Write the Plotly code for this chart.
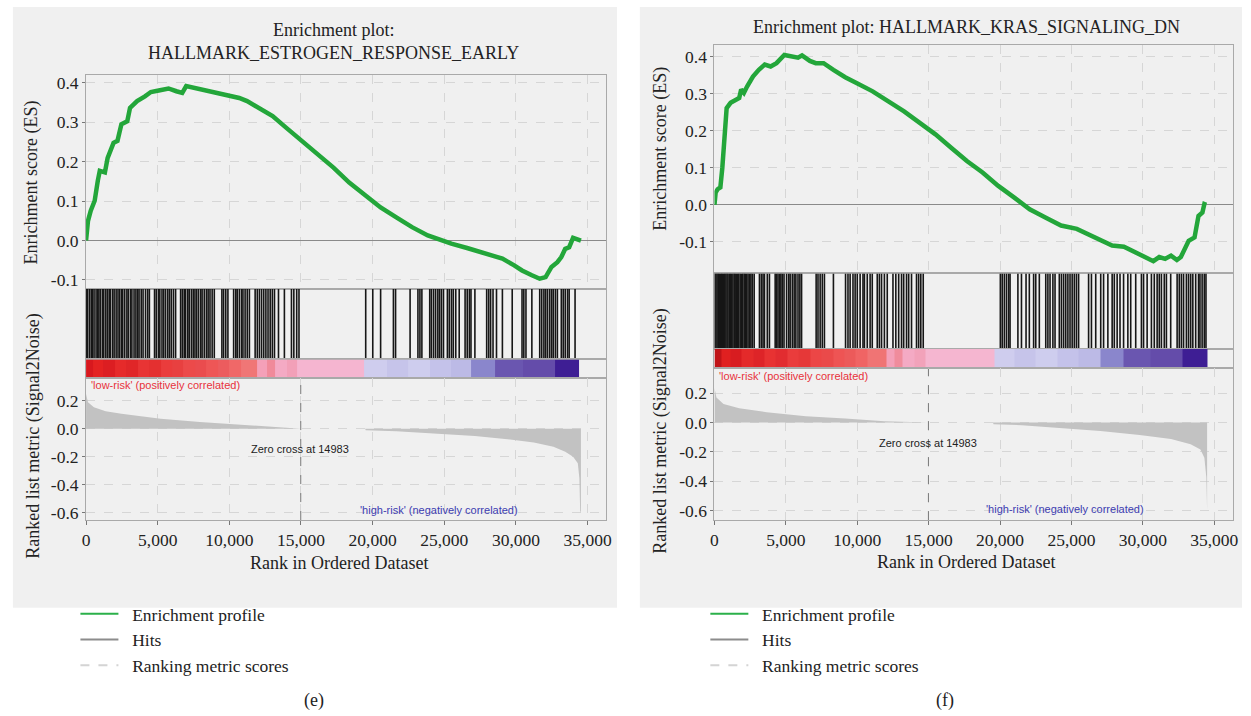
import plotly.graph_objects as go

W, H = 1251, 716
SERIF = "Liberation Serif, Times New Roman, serif"
SANS = "Liberation Sans, Arial, sans-serif"

# ---------------- shared ticks ----------------
x_tick_vals = [0, 5000, 10000, 15000, 20000, 25000, 30000, 35000]
x_tick_text = ["0", "5,000", "10,000", "15,000", "20,000", "25,000", "30,000", "35,000"]
es_tick_vals = [-0.1, 0.0, 0.1, 0.2, 0.3, 0.4]
es_tick_text = ["-0.1", "0.0", "0.1", "0.2", "0.3", "0.4"]
metric_tick_vals = [-0.6, -0.4, -0.2, 0.0, 0.2]
metric_tick_text = ["-0.6", "-0.4", "-0.2", "0.0", "0.2"]
zero_cross = 14983

# ---------------- panel (e) ----------------
e_title = ["Enrichment plot:", "HALLMARK_ESTROGEN_RESPONSE_EARLY"]
e_es_rank = [0, 137, 329, 603, 822, 959, 1316, 1508, 1919, 2193, 2467, 2878, 3070, 3563,
             4111, 4523, 5071, 5756, 6304, 6715, 6989, 7675, 8497, 9593, 10690, 11238,
             12060, 13020, 13979, 15075, 16172, 17268, 18365, 19461, 20557, 21654, 22750,
             23847, 24669, 25491, 26588, 27410, 28232, 29055, 29877, 30425, 31111, 31659,
             32070, 32481, 32892, 33166, 33440, 33714, 33988, 34262, 34536]
e_es_val = [0.0, 0.05, 0.076, 0.101, 0.152, 0.177, 0.173, 0.21, 0.248, 0.253, 0.295, 0.303,
            0.337, 0.354, 0.366, 0.377, 0.381, 0.386, 0.379, 0.375, 0.392, 0.386, 0.381,
            0.372, 0.362, 0.354, 0.337, 0.316, 0.286, 0.253, 0.219, 0.185, 0.147, 0.114,
            0.084, 0.059, 0.034, 0.013, 0.002, -0.008, -0.019, -0.029, -0.038, -0.046,
            -0.063, -0.076, -0.088, -0.097, -0.093, -0.067, -0.055, -0.042, -0.021, -0.017,
            0.007, 0.002, 0.0]
e_hits = [30, 120, 260, 380, 450, 560, 700, 820, 900, 1010, 1150, 1240, 1380, 1500, 1620,
          1700, 1850, 1960, 2100, 2230, 2350, 2480, 2560, 2700, 2850, 2950, 3100, 3200, 3350,
          3480, 3600, 3700, 3850, 3980, 4150, 4300, 4420, 4780, 4900, 5050, 5150,
          5300, 5420, 5550, 5700, 5820, 5950, 6100, 6250,
          6600, 6720, 6850, 6950, 7100, 7200, 7350, 7480, 7600, 7720, 7850, 8000, 8100, 8250,
          8400, 8520, 8650, 8800, 8950,
          9480, 9600, 9750, 9900,
          10300, 10450, 10550, 10700, 10850, 10950, 11100, 11250, 11400,
          11800, 11950, 12100, 12250, 12400, 12550, 12700, 12850, 13000, 13150,
          13430, 13842, 14335, 14500, 14700, 14860,
          19516, 20009, 20557, 21450, 21600, 22613, 23161, 23300, 23436, 23984, 24100, 24250,
          24395, 24550, 24669, 24800, 24943, 25217, 25350, 25500, 25628, 25800, 26040, 26451,
          26600, 26750, 26862, 27136, 27958, 28100, 28232, 28400, 28643, 29055, 29740, 30425,
          30550, 30699, 31111, 31659, 31800, 31950, 32070, 32200, 32350, 32481, 32600, 32750,
          32892, 33166, 33300, 33440, 33600, 33714, 34125]
e_metric_rank = [0, 137, 548, 1370, 2467, 5208, 7949, 10690, 13430, 14940, 14983, 19480,
                 19516, 21654, 24395, 27136, 29877, 31248, 32618, 33440, 33988, 34317, 34427,
                 34481, 34536]
e_metric_val = [0.247, 0.188, 0.153, 0.125, 0.106, 0.071, 0.047, 0.028, 0.012, 0.003, 0.0, 0.0,
                -0.012, -0.019, -0.035, -0.052, -0.08, -0.099, -0.129, -0.165, -0.2, -0.247,
                -0.353, -0.588, -0.6]
e_bar_edges = [0, 500, 1200, 2000, 2800, 3600, 4400, 5200, 6000, 6800, 7600, 8400, 9200,
               10000, 10800, 11965, 12600, 13200, 14000, 14725, 19414, 21000, 22500, 24000,
               25500, 26862, 28517, 30500, 32724, 34379]
e_bar_colors = ["#d8181e", "#e42222", "#dc1e22", "#e62a2a", "#e02628", "#e83434", "#e43030",
                "#ea3c3c", "#e84040", "#ec4a4a", "#ea4c4e", "#ee5656", "#ec5c5e", "#f06868",
                "#f07676", "#f4a0b8", "#f08a9a", "#f4aac4", "#f2a0b8", "#f5b5d0", "#cfcdee",
                "#c6c4ea", "#cecdee", "#c4c2ea", "#bcbae6", "#8a86cc", "#6a56b0", "#644caa",
                "#3e1e94"]

# ---------------- panel (f) ----------------
f_title = ["Enrichment plot: HALLMARK_KRAS_SIGNALING_DN"]
f_es_rank = [0, 82, 220, 412, 550, 687, 770, 852, 1127, 1457, 1732, 1869, 2062, 2282, 2694,
             3106, 3519, 3931, 4343, 4893, 5306, 5855, 6130, 6680, 7092, 7642, 8329, 9154,
             9979, 11078, 12178, 13278, 14377, 15477, 16576, 17676, 18776, 19875, 20975,
             22075, 23174, 24274, 25374, 26198, 27023, 27848, 28673, 29498, 30322, 30735,
             31147, 31560, 31972, 32384, 32659, 32934, 33209, 33621, 33896, 34171, 34308,
             34445]
f_es_val = [0.0, 0.033, 0.042, 0.047, 0.1, 0.19, 0.199, 0.261, 0.275, 0.284, 0.288, 0.311,
            0.302, 0.319, 0.346, 0.364, 0.378, 0.373, 0.382, 0.404, 0.402, 0.397, 0.403,
            0.388, 0.382, 0.382, 0.364, 0.344, 0.328, 0.306, 0.279, 0.252, 0.221, 0.19, 0.154,
            0.118, 0.087, 0.051, 0.02, -0.012, -0.034, -0.056, -0.065, -0.079, -0.095, -0.11,
            -0.113, -0.128, -0.146, -0.152, -0.141, -0.146, -0.137, -0.149, -0.141, -0.119,
            -0.097, -0.088, -0.03, -0.021, 0.002, 0.0]
f_hits = [20, 100, 180, 260, 330, 420, 500, 560, 650, 720, 800, 880, 950, 1050, 1120, 1200,
          1290, 1380, 1450, 1540, 1620, 1700, 1800, 1900, 1980, 2080, 2160, 2250,
          2350, 2450, 2550, 2650, 2780, 3150, 3280, 3400, 3500, 3700, 3850,
          4250, 4350, 4450, 4560, 4650, 4750, 4870, 5050, 5200, 5300,
          5450, 5580, 5700, 5850, 5980, 6100, 7120, 7250, 7400, 7550, 7700, 8330,
          9180, 9350, 9500, 9700, 9850, 10000, 10200, 10400, 10500, 10700, 10900, 11050,
          11400, 11550, 11700, 11900, 12100, 12500, 12700, 12900, 13100, 13250,
          13450, 13600, 13800, 14150, 14300, 14450, 14620,
          20020, 20150, 20300, 20450, 20600, 20700, 21250, 21500, 21820, 22050,
          22350, 22500, 22750, 23200, 23350, 23500, 23700, 23850,
          24150, 24300, 24450, 24600, 24750, 24900, 25050, 25200, 25350, 25500,
          26200, 26400, 26700, 27050, 27250, 27550, 27850, 28000, 28200, 28400, 28650,
          28950, 29150, 29500, 29900, 30050, 30300, 30600, 30800, 31000,
          31150, 31300, 31500, 31650, 31950, 32400, 32550, 32700, 32850, 33050,
          33200, 33350, 33500, 33700, 33900, 34000, 34150, 34300, 34420]
f_metric_rank = [0, 137, 632, 1732, 3656, 6405, 9154, 11903, 14927, 14983, 19500, 19545,
                 21524, 24274, 27023, 29773, 31972, 33346, 34033, 34308, 34445, 34500]
f_metric_val = [0.238, 0.171, 0.127, 0.098, 0.071, 0.044, 0.027, 0.009, 0.001, 0.0, 0.0,
                -0.011, -0.018, -0.036, -0.058, -0.084, -0.111, -0.147, -0.184, -0.24,
                -0.373, -0.596]
f_bar_edges = [0, 500, 1100, 1900, 2700, 3500, 4300, 5100, 5900, 6700, 7500, 8300, 9100,
               9900, 10700, 12040, 12600, 13200, 14000, 14800, 19600, 21000, 22500, 24000,
               25500, 27020, 28620, 30500, 32800, 34500]
f_bar_colors = ["#c01418", "#e02020", "#d81c20", "#e42a2a", "#de2428", "#e83232", "#e22c30",
                "#ea3c3c", "#e63838", "#ec4646", "#ea4a4a", "#ee5454", "#ec5a5a", "#f06464",
                "#f07474", "#f4a0b8", "#f08c9c", "#f4aac4", "#f2a2ba", "#f5b6d0", "#cfcdee",
                "#c6c4ea", "#cecdee", "#c4c2ea", "#bcbae6", "#8a86cc", "#6a56b0", "#644caa",
                "#3e1e94"]

legend_names = ["\u00a0\u00a0Enrichment profile", "\u00a0\u00a0Hits",
                "\u00a0\u00a0Ranking metric scores"]
panel_labels = ["(e)", "(f)"]


def px(x):
    return x / W


def py(y):
    return 1 - y / H


fig = go.Figure()
annotations = []
layout_axes = {}


def add_text(x, y, text, size, color="#222222", family=SERIF, angle=0, xanchor="center"):
    annotations.append(dict(x=px(x), y=py(y), xref="paper", yref="paper", text=text,
                            showarrow=False, font=dict(size=size, color=color, family=family),
                            textangle=angle, xanchor=xanchor, yanchor="middle"))


def build_panel(k, left, right, es_dom, hit_dom, bar_dom, met_dom, xmax, es_rng, met_rng,
                es_rank, es_val, hits, m_rank, m_val, edges, colors, legend_id):
    ids = [4 * k + i for i in range(1, 5)]
    names = ["" if i == 1 else str(i) for i in ids]
    xd = [px(left), px(right)]
    border = "#a9a9a9"
    grid = "#d6d6d6"
    for n, dom in zip(names, [es_dom, hit_dom, bar_dom, met_dom]):
        layout_axes["xaxis" + n] = dict(domain=xd, range=[0, xmax], anchor="y" + n,
                                        showline=True, mirror=True, linecolor=border,
                                        showgrid=False, zeroline=False, showticklabels=False,
                                        ticks="", fixedrange=True)
        layout_axes["yaxis" + n] = dict(domain=[py(dom[1]), py(dom[0])], anchor="x" + n,
                                        showline=True, mirror=True, linecolor=border,
                                        showgrid=False, zeroline=False, showticklabels=False,
                                        ticks="", range=[0, 1], fixedrange=True)
    n_es, n_hit, n_bar, n_met = names
    tickfont = dict(family=SERIF, size=17.5, color="#222222")
    layout_axes["xaxis" + n_es].update(showgrid=True, gridcolor=grid, griddash="dash",
                                       tickvals=x_tick_vals)
    layout_axes["yaxis" + n_es].update(range=es_rng, showgrid=True, gridcolor=grid,
                                       griddash="dash", tickvals=es_tick_vals,
                                       ticktext=es_tick_text, showticklabels=True,
                                       ticks="outside", ticklen=3, tickcolor="#777",
                                       tickfont=tickfont, zeroline=True,
                                       zerolinecolor="#8a8a8a", zerolinewidth=1)
    layout_axes["xaxis" + n_met].update(showgrid=True, gridcolor=grid, griddash="dash",
                                        tickvals=x_tick_vals, ticktext=x_tick_text,
                                        showticklabels=True, ticks="outside", ticklen=4,
                                        tickcolor="#777", tickfont=tickfont)
    layout_axes["yaxis" + n_met].update(range=met_rng, showgrid=True, gridcolor=grid,
                                        griddash="dash", tickvals=metric_tick_vals,
                                        ticktext=metric_tick_text, showticklabels=True,
                                        ticks="outside", ticklen=3, tickcolor="#777",
                                        tickfont=tickfont)

    def ax(n):
        return dict(xaxis="x" + n, yaxis="y" + n)

    # ranked metric area
    fig.add_trace(go.Scatter(x=m_rank, y=m_val, mode="lines", fill="tozeroy",
                             fillcolor="#c2c2c2", line=dict(width=0, color="#c2c2c2"),
                             showlegend=False, hoverinfo="skip", **ax(n_met)))
    # zero cross line
    fig.add_trace(go.Scatter(x=[zero_cross, zero_cross], y=met_rng, mode="lines",
                             line=dict(color="#7a7a7a", width=1, dash="dash"),
                             showlegend=False, hoverinfo="skip", **ax(n_met)))
    # hits
    hx, hy = [], []
    for h in hits:
        hx += [h, h, None]
        hy += [0, 1, None]
    fig.add_trace(go.Scatter(x=hx, y=hy, mode="lines", line=dict(color="#161616", width=1.6),
                             showlegend=False, hoverinfo="skip", **ax(n_hit)))
    # colour bar
    nc = len(colors)
    cs = [[i / (nc - 1), c] for i, c in enumerate(colors)]
    fig.add_trace(go.Heatmap(x=edges, y=[0, 1], z=[list(range(nc))], colorscale=cs,
                             zmin=0, zmax=nc - 1, showscale=False, hoverinfo="skip",
                             **ax(n_bar)))
    # enrichment profile
    fig.add_trace(go.Scatter(x=es_rank, y=es_val, mode="lines",
                             line=dict(color="#23a63a", width=4.5),
                             showlegend=False, hoverinfo="skip", **ax(n_es)))
    # legend entries
    styles = [dict(color="#2bb04a", width=2), dict(color="#8c8c8c", width=2),
              dict(color="#d4d4d4", width=2, dash="dash")]
    for name, st in zip(legend_names, styles):
        fig.add_trace(go.Scatter(x=[None], y=[None], mode="lines", line=st, name=name,
                                 legend=legend_id, **ax(n_es)))


# gray panel backgrounds
shapes = [
    dict(type="rect", xref="paper", yref="paper", x0=px(9), x1=px(618), y0=py(610), y1=py(5),
         fillcolor="#f0f0f0", line=dict(width=0), layer="below"),
    dict(type="rect", xref="paper", yref="paper", x0=px(641), x1=px(1248), y0=py(610), y1=py(5),
         fillcolor="#f0f0f0", line=dict(width=0), layer="below"),
]

build_panel(0, 82.7, 606.7, (74, 289), (289, 360), (360, 378.7), (378.7, 521.7), 36274,
            [-0.123, 0.419], [-0.652, 0.361], e_es_rank, e_es_val, e_hits,
            e_metric_rank, e_metric_val, e_bar_edges, e_bar_colors, "legend")
build_panel(1, 716.2, 1239, (43.3, 273.3), (273.3, 349), (349, 369), (369, 521.7), 36320,
            [-0.185, 0.431], [-0.664, 0.369], f_es_rank, f_es_val, f_hits,
            f_metric_rank, f_metric_val, f_bar_edges, f_bar_colors, "legend2")

# titles
add_text(332, 28, e_title[0], 18)
add_text(332, 51, e_title[1], 18)
add_text(970, 25, f_title[0], 18)
# axis titles
add_text(28, 182, "Enrichment score (ES)", 18, angle=-90)
add_text(30, 437, "Ranked list metric (Signal2Noise)", 18, angle=-90)
add_text(662, 148, "Enrichment score (ES)", 18, angle=-90)
add_text(662, 432, "Ranked list metric (Signal2Noise)", 18, angle=-90)
add_text(338, 565, "Rank in Ordered Dataset", 18)
add_text(970, 564, "Rank in Ordered Dataset", 18)
# in-plot labels
add_text(86, 386, "'low-risk' (positively correlated)", 11, color="#e8323c", family=SANS,
         xanchor="left")
add_text(719, 377, "'low-risk' (positively correlated)", 11, color="#e8323c", family=SANS,
         xanchor="left")
add_text(439, 512, "'high-risk' (negatively correlated)", 11, color="#3c3cb0", family=SANS)
add_text(1070, 511, "'high-risk' (negatively correlated)", 11, color="#3c3cb0", family=SANS)
add_text(298, 450, "Zero cross at 14983", 11, color="#222222", family=SANS)
add_text(931, 444, "Zero cross at 14983", 11, color="#222222", family=SANS)
# panel letters
add_text(313, 703, panel_labels[0], 18)
add_text(949, 703, panel_labels[1], 18)

legend_common = dict(xanchor="left", yanchor="top", bgcolor="rgba(0,0,0,0)",
                     font=dict(family=SERIF, size=17.5, color="#222222"), itemwidth=38,
                     tracegroupgap=0, traceorder="normal")
fig.update_layout(
    width=W, height=H, margin=dict(l=0, r=0, t=0, b=0),
    paper_bgcolor="white", plot_bgcolor="white",
    font=dict(family=SERIF),
    shapes=shapes, annotations=annotations, showlegend=True,
    legend=dict(x=px(72), y=py(598), **legend_common),
    legend2=dict(x=px(707), y=py(598), **legend_common),
    **layout_axes,
)

fig.write_html("out.html", config={"displayModeBar": False},
               post_script="document.body.style.margin='0px';")
